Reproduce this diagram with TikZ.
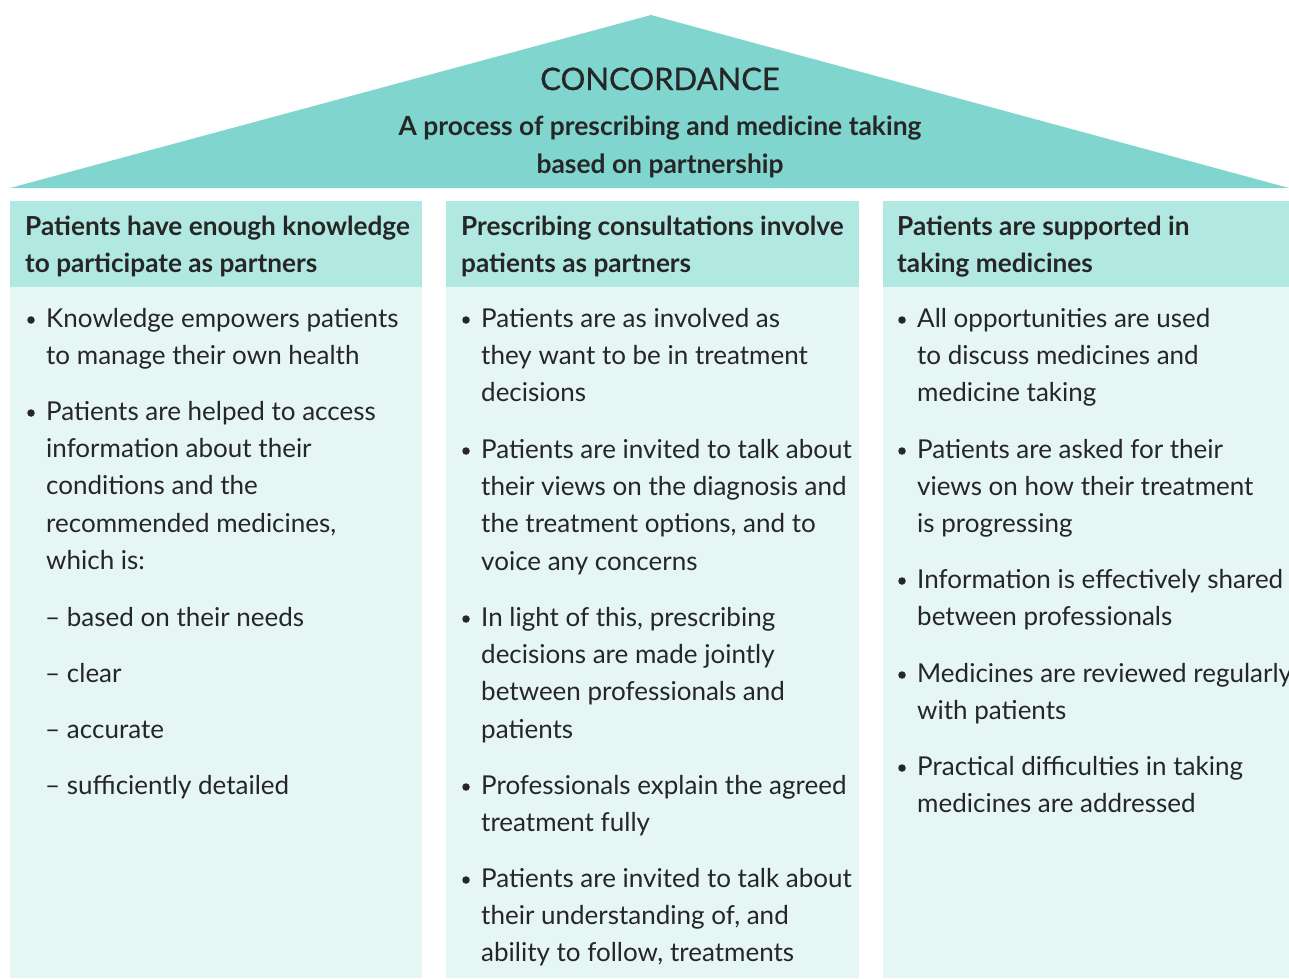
\documentclass[tikz,border=0pt]{standalone}
\usepackage{fontspec}
\setmainfont{Lato}
\newfontfamily\titlefont{Lato}[FakeBold=0.8]
\definecolor{roofc}{HTML}{80D5CF}
\definecolor{hdrc}{HTML}{B2E8E2}
\definecolor{bodyc}{HTML}{E5F6F5}
\definecolor{txtc}{HTML}{262626}
\tikzset{
  bodytxt/.style={anchor=base west, inner sep=0pt, text=txtc, font=\fontsize{26}{30}\selectfont},
  hdrtxt/.style={anchor=base west, inner sep=0pt, text=txtc, font=\bfseries\fontsize{26.2}{30}\selectfont},
  rooftitle/.style={anchor=base, inner sep=0pt, text=txtc, font=\titlefont\fontsize{31}{36}\selectfont},
  roofsub/.style={anchor=base, inner sep=0pt, text=txtc, font=\bfseries\fontsize{26.4}{30}\selectfont},
  bulletdot/.style={circle, fill=txtc, inner sep=0pt, minimum size=7.5pt},
}
\newcommand\bulletlines[4]{%
  \node[bulletdot] (#1-dot) at (#2-15,#3-7) {};
  \foreach \t [count=\i from 0] in {#4} {
    \node[bodytxt] (#1-\i) at (#2,#3+\i*37.4) {\t};
  }
}
\begin{document}
\begin{tikzpicture}[x=1pt,y=-1pt]
\useasboundingbox (0,0) rectangle (1289,978);
% roof
\fill[roofc] (10,188) -- (651,15) -- (1289,188) -- cycle;
\node[rooftitle] (title) at (660,90) {CONCORDANCE};
\node[roofsub] (sub1) at (660,135) {A process of prescribing and medicine taking};
\node[roofsub] (sub2) at (660,173) {based on partnership};
% columns
\fill[hdrc] (10,201) rectangle (422,287);
\fill[bodyc] (10,287) rectangle (422,978);
\fill[hdrc] (446,201) rectangle (859,287);
\fill[bodyc] (446,287) rectangle (859,978);
\fill[hdrc] (883,201) rectangle (1289,287);
\fill[bodyc] (883,287) rectangle (1289,978);
% headers
\node[hdrtxt] (h1a) at (25,235) {Patients have enough knowledge};
\node[hdrtxt] (h1b) at (25,272) {to participate as partners};
\node[hdrtxt] (h2a) at (461,235) {Prescribing consultations involve};
\node[hdrtxt] (h2b) at (461,272) {patients as partners};
\node[hdrtxt] (h3a) at (897,235) {Patients are supported in};
\node[hdrtxt] (h3b) at (897,272) {taking medicines};
% column 1
\bulletlines{a1}{46}{327}{Knowledge empowers patients, to manage their own health}
\bulletlines{a2}{46}{420}{Patients are helped to access, information about their, conditions and the, {recommended medicines,}, which is:}
\node[bodytxt] (d1) at (45,626) {– based on their needs};
\node[bodytxt] (d2) at (45,682) {– clear};
\node[bodytxt] (d3) at (45,738) {– accurate};
\node[bodytxt] (d4) at (45,794) {– sufficiently detailed};
% column 2
\bulletlines{b1}{481}{327}{Patients are as involved as, they want to be in treatment, decisions}
\bulletlines{b2}{481}{458}{Patients are invited to talk about, their views on the diagnosis and, {the treatment options, and to}, voice any concerns}
\bulletlines{b3}{481}{626}{{In light of this, prescribing}, decisions are made jointly, between professionals and, patients}
\bulletlines{b4}{481}{794}{Professionals explain the agreed, treatment fully}
\bulletlines{b5}{481}{887}{Patients are invited to talk about, {their understanding of, and}, {ability to follow, treatments}}
% column 3
\bulletlines{c1}{917}{327}{All opportunities are used, to discuss medicines and, medicine taking}
\bulletlines{c2}{917}{458}{Patients are asked for their, views on how their treatment, is progressing}
\bulletlines{c3}{917}{588}{Information is effectively shared, between professionals}
\bulletlines{c4}{917}{682}{Medicines are reviewed regularly, with patients}
\bulletlines{c5}{917}{775}{Practical difficulties in taking, medicines are addressed}
\end{tikzpicture}
\end{document}
